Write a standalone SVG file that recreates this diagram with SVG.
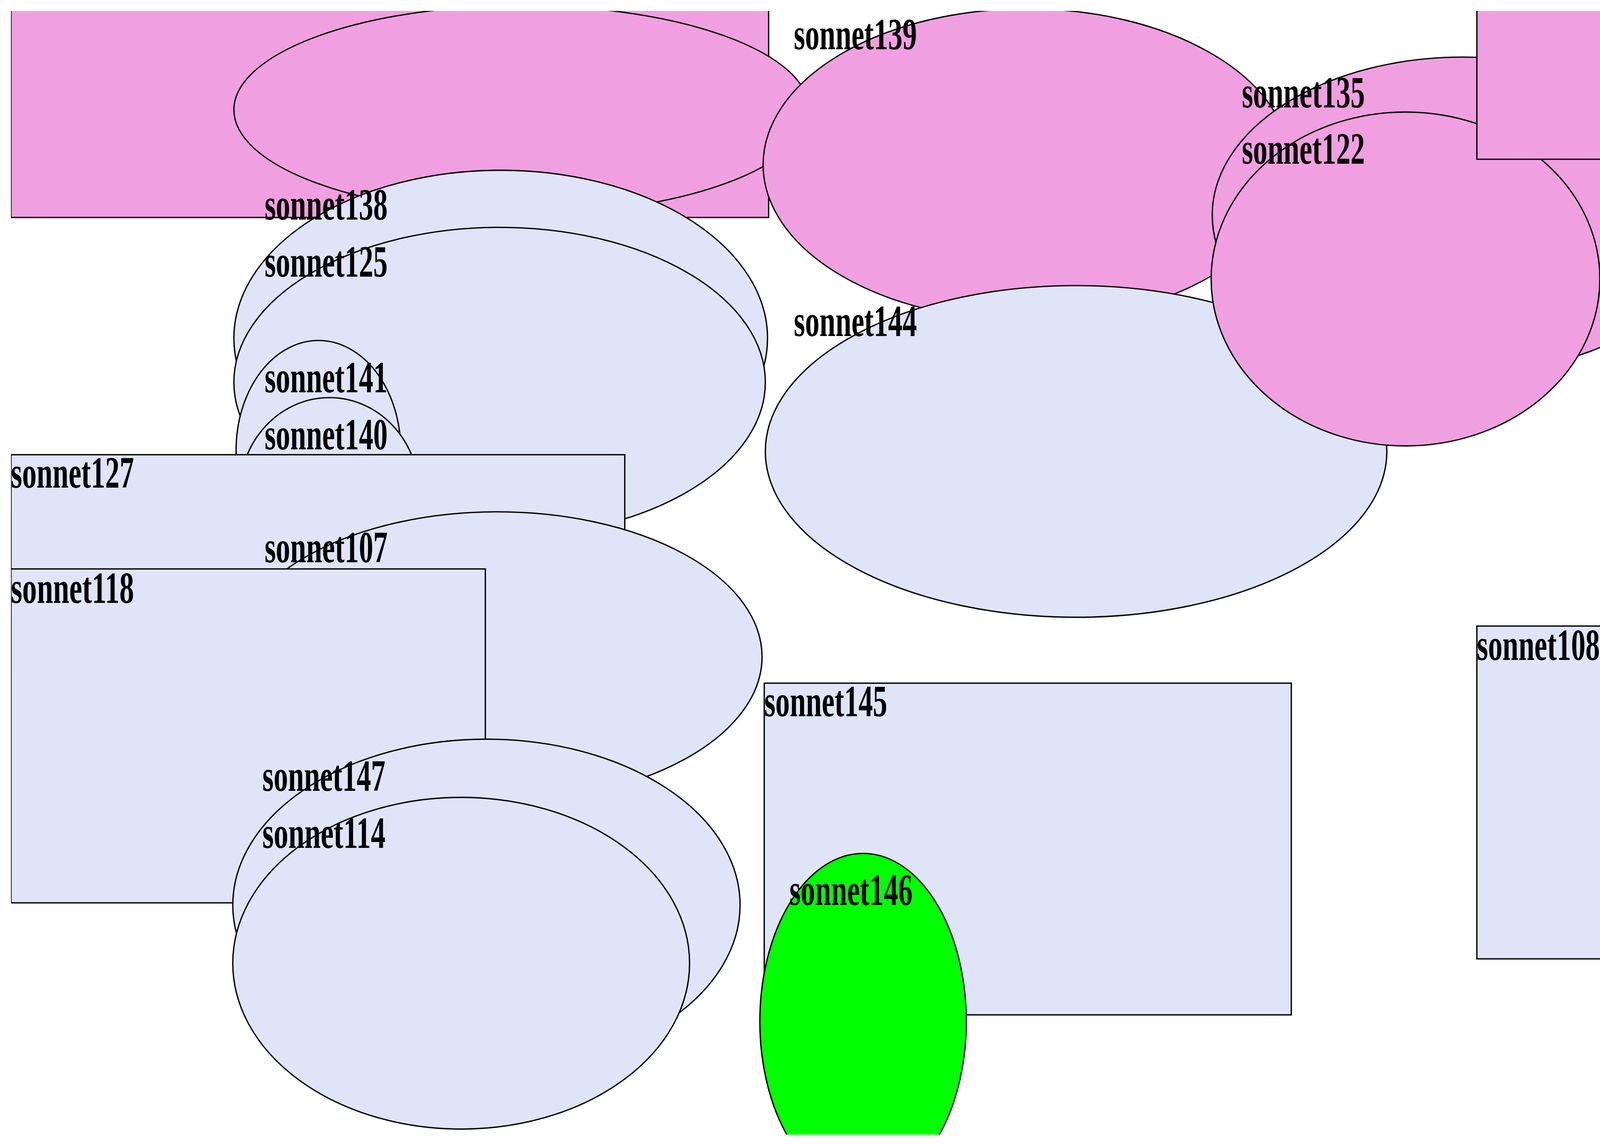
<svg xmlns="http://www.w3.org/2000/svg" width="4408" height="2933" viewBox="0 0 4408 2933">
<style>
.p{fill:#f0a0e0;stroke:#000;stroke-width:1.2}
.b{fill:#e0e4f8;stroke:#000;stroke-width:1.2}
.g{fill:#00ff00;stroke:#000;stroke-width:1.2}
text{font-family:"Liberation Serif",serif;font-weight:bold;font-size:41px;fill:#000}
</style>
<defs><clipPath id="c"><rect x="10" y="10" width="1550" height="1023"/></clipPath></defs>
<rect width="4408" height="2933" fill="#fff"/>
<g transform="scale(2.811)">
<g clip-path="url(#c)">
<g id="n0"><rect class="p" x="10" y="-5" width="690" height="203"/></g>
<g id="n1"><ellipse class="p" cx="475" cy="100" rx="262" ry="95"/></g>
<g id="sonnet139"><ellipse class="p" cx="935" cy="150" rx="240" ry="142"/></g>
<g id="sonnet144"><ellipse class="b" cx="980" cy="411" rx="283" ry="151"/></g>
<g id="sonnet135"><ellipse class="p" cx="1332" cy="196" rx="228" ry="144"/></g>
<g id="sonnet122"><ellipse class="p" cx="1280" cy="254" rx="177" ry="152"/></g>
<g id="n2"><rect class="p" x="1345" y="-5" width="230" height="150"/></g>
<g id="sonnet138"><ellipse class="b" cx="456" cy="308" rx="243" ry="153"/></g>
<g id="sonnet125"><ellipse class="b" cx="455" cy="348" rx="242" ry="141"/></g>
<g id="sonnet141"><ellipse class="b" cx="290" cy="410" rx="75" ry="100"/></g>
<g id="sonnet140"><ellipse class="b" cx="300" cy="450" rx="82" ry="88"/></g>
<g id="sonnet127"><rect class="b" x="10" y="414" width="559" height="200"/></g>
<g id="sonnet107"><ellipse class="b" cx="453" cy="598" rx="241" ry="132"/></g>
<g id="sonnet118"><rect class="b" x="10" y="518" width="432" height="304"/></g>
<g id="sonnet147"><ellipse class="b" cx="443" cy="824" rx="231" ry="151"/></g>
<g id="sonnet114"><ellipse class="b" cx="420" cy="877" rx="208" ry="151"/></g>
<g id="sonnet145"><rect class="b" x="696" y="622" width="480" height="302"/></g>
<g id="sonnet146"><ellipse class="g" cx="786" cy="930" rx="94" ry="153"/></g>
<g id="sonnet108"><rect class="b" x="1345" y="570" width="230" height="303"/></g>
</g>
<g id="connectors"/>
<g id="labels">
<text x="723" y="45" textLength="112" lengthAdjust="spacingAndGlyphs">sonnet139</text>
<text x="1131" y="98" textLength="112" lengthAdjust="spacingAndGlyphs">sonnet135</text>
<text x="1131" y="149" textLength="112" lengthAdjust="spacingAndGlyphs">sonnet122</text>
<text x="241" y="200" textLength="112" lengthAdjust="spacingAndGlyphs">sonnet138</text>
<text x="241" y="252" textLength="112" lengthAdjust="spacingAndGlyphs">sonnet125</text>
<text x="723" y="306" textLength="112" lengthAdjust="spacingAndGlyphs">sonnet144</text>
<text x="241" y="357" textLength="112" lengthAdjust="spacingAndGlyphs">sonnet141</text>
<text x="241" y="409" textLength="112" lengthAdjust="spacingAndGlyphs">sonnet140</text>
<text x="10" y="444" textLength="112" lengthAdjust="spacingAndGlyphs">sonnet127</text>
<text x="241" y="512" textLength="112" lengthAdjust="spacingAndGlyphs">sonnet107</text>
<text x="10" y="549" textLength="112" lengthAdjust="spacingAndGlyphs">sonnet118</text>
<text x="1345" y="601" textLength="112" lengthAdjust="spacingAndGlyphs">sonnet108</text>
<text x="696" y="652" textLength="112" lengthAdjust="spacingAndGlyphs">sonnet145</text>
<text x="239" y="720" textLength="112" lengthAdjust="spacingAndGlyphs">sonnet147</text>
<text x="239" y="772" textLength="112" lengthAdjust="spacingAndGlyphs">sonnet114</text>
<text x="719" y="824" textLength="112" lengthAdjust="spacingAndGlyphs">sonnet146</text>
</g>
</g>
</svg>
